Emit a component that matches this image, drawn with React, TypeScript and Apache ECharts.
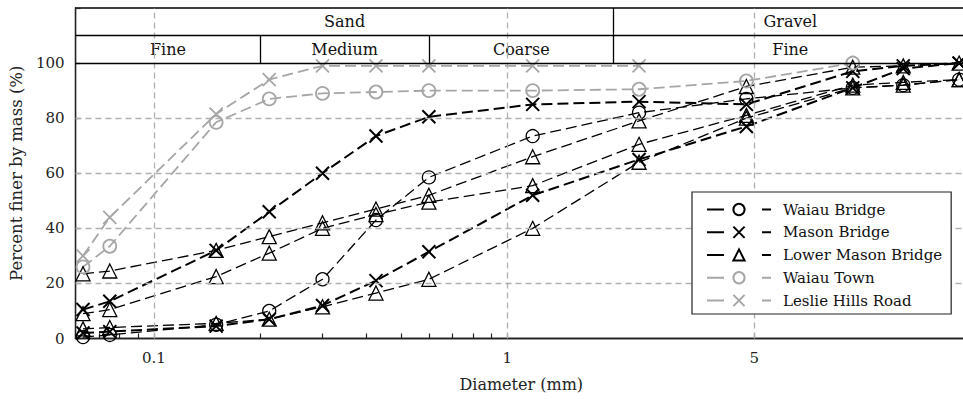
import React, { useEffect, useRef } from 'react';
import * as echarts from 'echarts';

// Sieve sizes (mm)
const sieveSizes = [0.063, 0.075, 0.15, 0.212, 0.3, 0.425, 0.6, 1.18, 2.36, 4.75, 9.5, 13.2, 19];

// Percent finer by mass (%)
const waiauBridge = [0.5, 1.3, 5, 10, 21.5, 43, 58.5, 73.5, 82, 87, 91, 92, 94];
const masonBridgeA = [10.5, 13.5, 32, 46, 60, 73.5, 80.5, 85, 86, 85, 97, 99, 100];
const masonBridgeB = [2, 2.5, 4.5, 7, 12, 21, 31.5, 52, 65, 77, 91, 98, 100];
const lowerMasonA = [23.5, 24.5, 32, 37, 42, 47, 52, 66, 79, 91.5, 98.5, 99, 100];
const lowerMasonB = [9, 10.5, 22.5, 31, 40, 45, 49.5, 55.5, 70.5, 81, 92, 93, 94];
const lowerMasonC = [3.5, 4, 5.5, 7, 11.5, 16.5, 21.5, 40, 64, 80, 91, 92, 94];
const waiauTown = [26, 33.5, 78.5, 87, 89, 89.5, 90, 90, 90.5, 93.5, 100];
const leslieHills = [30, 44, 81.5, 94, 99, 99, 99, 99, 99];

const legendNames = ['Waiau Bridge', 'Mason Bridge', 'Lower Mason Bridge', 'Waiau Town', 'Leslie Hills Road'];

// x-axis labels and ticks
const xLabelValues = [0.1, 1, 5];
const xTickValues = [0.07, 0.08, 0.09, 0.1, 0.2, 0.3, 0.4, 0.5, 0.6, 0.7, 0.8, 0.9, 1, 5];
const xGridValues = [0.1, 1, 5];
const yGridValues = [20, 40, 60, 80];

// Soil classification header
const headerTop = [
  { name: 'Sand', from: 0.06, to: 2 },
  { name: 'Gravel', from: 2, to: 20 },
];
const headerBottom = [
  { name: 'Fine', from: 0.06, to: 0.2 },
  { name: 'Medium', from: 0.2, to: 0.6 },
  { name: 'Coarse', from: 0.6, to: 2 },
  { name: 'Fine', from: 2, to: 20 },
];

const FONT = 'DejaVu Serif';
const BLACK = '#000000';
const GRAY = '#a6a6a6';
const CROSS = 'path://M0,0L10,10M0,10L10,0';

function makeSeries(name: string, values: number[], symbol: string, color: string, width: number, size: number) {
  return {
    name,
    type: 'line',
    z: 3,
    data: values.map((v, i) => [sieveSizes[i], v]),
    symbol,
    symbolSize: size,
    showSymbol: true,
    lineStyle: { color, width, type: [11, 5] },
    itemStyle: { color: 'rgba(0,0,0,0)', borderColor: color, borderWidth: width },
    emphasis: { disabled: true },
  };
}

export default function App() {
  const ref = useRef<HTMLDivElement>(null);
  useEffect(() => {
    const chart = echarts.init(ref.current!, null, { renderer: 'svg' });
    const gridLineStyle = { color: '#b0b0b0', width: 1.3, type: [6, 4] };
    const blackLine = { color: BLACK, width: 1.3, type: 'solid' };
    const markLineData: any[] = [];
    xGridValues.forEach((v) => markLineData.push({ xAxis: v, lineStyle: gridLineStyle }));
    yGridValues.forEach((v) => markLineData.push({ yAxis: v, lineStyle: gridLineStyle }));
    markLineData.push({ yAxis: 100, lineStyle: blackLine });
    markLineData.push({ yAxis: 110, lineStyle: blackLine });
    markLineData.push([{ coord: [0.2, 100], lineStyle: blackLine }, { coord: [0.2, 110] }]);
    markLineData.push([{ coord: [0.6, 100], lineStyle: blackLine }, { coord: [0.6, 110] }]);
    markLineData.push([{ coord: [2, 100], lineStyle: blackLine }, { coord: [2, 120] }]);

    const markAreaData: any[] = [];
    headerTop.forEach((h) => markAreaData.push([{ xAxis: h.from, yAxis: 110, name: h.name }, { xAxis: h.to, yAxis: 120 }]));
    headerBottom.forEach((h) => markAreaData.push([{ xAxis: h.from, yAxis: 100, name: h.name }, { xAxis: h.to, yAxis: 110 }]));

    const option: any = {
      animation: false,
      backgroundColor: '#ffffff',
      textStyle: { fontFamily: FONT },
      grid: {
        left: 71, top: 8, right: 13, bottom: 60.5,
        show: true, borderColor: BLACK, borderWidth: 1.3, backgroundColor: 'transparent',
      },
      legend: {
        data: legendNames,
        orient: 'vertical',
        left: 692,
        top: 192,
        padding: [10, 9, 6, 14],
        itemWidth: 64,
        itemHeight: 14,
        itemGap: 7.75,
        backgroundColor: '#ffffff',
        borderColor: '#222222',
        borderWidth: 1.2,
        borderRadius: 0,
        z: 10,
        textStyle: { fontFamily: FONT, fontSize: 15, color: '#111', padding: [0, 0, 0, 7] },
        lineStyle: { type: [17, 38] },
      },
      xAxis: {
        type: 'log',
        logBase: 10,
        min: 0.06,
        max: 20,
        name: 'Diameter (mm)',
        nameLocation: 'middle',
        nameGap: 38,
        nameTextStyle: { fontFamily: FONT, fontSize: 16, color: '#222' },
        axisLine: { show: true, lineStyle: { color: '#222', width: 1.3 } },
        axisTick: { show: true, inside: true, length: 5, customValues: xTickValues, lineStyle: { color: '#222', width: 1.2 } },
        minorTick: { show: false },
        axisLabel: {
          customValues: xLabelValues,
          margin: 12,
          fontFamily: FONT, fontSize: 15, color: '#222',
          formatter: (v: number) => String(v),
        },
        splitLine: { show: false },
      },
      yAxis: {
        type: 'value',
        min: 0,
        max: 120,
        interval: 20,
        name: 'Percent finer by mass (%)',
        nameLocation: 'middle',
        nameGap: 43,
        nameTextStyle: { fontFamily: FONT, fontSize: 16.5, color: '#222' },
        axisLine: { show: true, lineStyle: { color: '#222', width: 1.3 } },
        axisTick: { show: true, inside: true, length: 5, lineStyle: { color: '#222', width: 1.2 } },
        axisLabel: {
          margin: 11,
          fontFamily: FONT, fontSize: 15, color: '#222',
          formatter: (v: number) => (v > 100 ? '' : String(v)),
        },
        splitLine: { show: false },
      },
      series: [
        {
          type: 'line',
          z: 1,
          data: [],
          silent: true,
          markLine: { silent: true, symbol: 'none', label: { show: false }, data: markLineData, animation: false },
          markArea: {
            silent: true,
            itemStyle: { color: 'rgba(0,0,0,0)' },
            label: { show: true, position: 'inside', color: '#111', fontFamily: FONT, fontSize: 16 },
            data: markAreaData,
          },
        },
        makeSeries('Waiau Bridge', waiauBridge, 'circle', BLACK, 1.3, 13),
        makeSeries('Mason Bridge', masonBridgeA, CROSS, BLACK, 2, 13),
        makeSeries('Mason Bridge', masonBridgeB, CROSS, BLACK, 2, 13),
        makeSeries('Lower Mason Bridge', lowerMasonA, 'triangle', BLACK, 1.3, 14),
        makeSeries('Lower Mason Bridge', lowerMasonB, 'triangle', BLACK, 1.3, 14),
        makeSeries('Lower Mason Bridge', lowerMasonC, 'triangle', BLACK, 1.3, 14),
        makeSeries('Waiau Town', waiauTown, 'circle', GRAY, 1.8, 13),
        makeSeries('Leslie Hills Road', leslieHills, CROSS, GRAY, 1.8, 13),
      ],
    };
    chart.setOption(option);
    return () => chart.dispose();
  }, []);
  return (
    <div style={{ position: 'fixed', left: 0, top: 0, width: 963, height: 399, overflow: 'hidden', background: '#fff' }}>
      <div ref={ref} style={{ width: 980, height: 399 }} />
    </div>
  );
}
